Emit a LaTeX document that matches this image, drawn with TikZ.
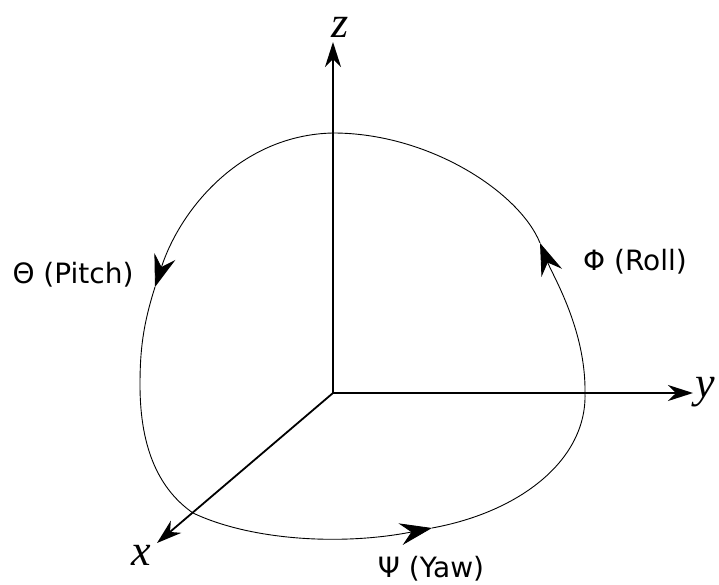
\documentclass[tikz,border=0pt]{standalone}
\usepackage{fontspec}
\setmainfont{DejaVu Sans}
\newfontfamily\axisfont{Liberation Serif}
\usetikzlibrary{arrows.meta}
\begin{document}
\begin{tikzpicture}[x=1pt,y=-1pt,
  axisline/.style={line width=1.8pt, -{Stealth[length=25pt,width=16pt,inset=8pt]}},
  orbit/.style={line width=0.9pt},
  orbitarrow/.style={orbit, -{Stealth[length=32pt,width=22pt,inset=11pt]}},
  axislabel/.style={font=\fontsize{44}{44}\selectfont\axisfont\itshape, inner sep=0pt},
  anglelabel/.style={font=\fontsize{28}{32}\selectfont, inner sep=0pt}]
\useasboundingbox (0,0) rectangle (719,585);
% key points
\coordinate (O) at (333,393);
\coordinate (Zt) at (333,42);
\coordinate (Yt) at (693,393);
\coordinate (Xt) at (157,543);
\coordinate (T) at (333,133);
\coordinate (P) at (155,287);
\coordinate (L) at (140,385);
\coordinate (X) at (193,513);
\coordinate (W) at (432,528);
\coordinate (Y) at (585,393);
\coordinate (R) at (540,243);
% orbit (pitch, yaw, roll arcs)
\draw[orbitarrow] (T) .. controls (240,135) and (180,210) .. (P);
\draw[orbit] (P) .. controls (143,325) and (140,350) .. (L)
             .. controls (140,450) and (160,490) .. (X);
\draw[orbitarrow] (X) .. controls (250,540) and (340,546) .. (W);
\draw[orbit] (W) .. controls (520,512) and (587,460) .. (Y);
\draw[orbitarrow] (Y) .. controls (586,330) and (553,276) .. (R);
\draw[orbit] (R) .. controls (520,193) and (430,133) .. (T);
% axes
\draw[axisline] (O) -- (Zt);
\draw[axisline] (O) -- (Yt);
\draw[axisline] (O) -- (Xt);
% labels
\node[axislabel] (zl) at (340,27) {z};
\node[axislabel, anchor=base west] (yl) at (695,397) {y};
\node[axislabel] (xl) at (141,555) {x};
\node[anglelabel] (pitch) at (73,275) {Θ (Pitch)};
\node[anglelabel] (roll) at (635,262) {Φ (Roll)};
\node[anglelabel] (yaw) at (431,569) {Ψ (Yaw)};
\end{tikzpicture}
\end{document}
